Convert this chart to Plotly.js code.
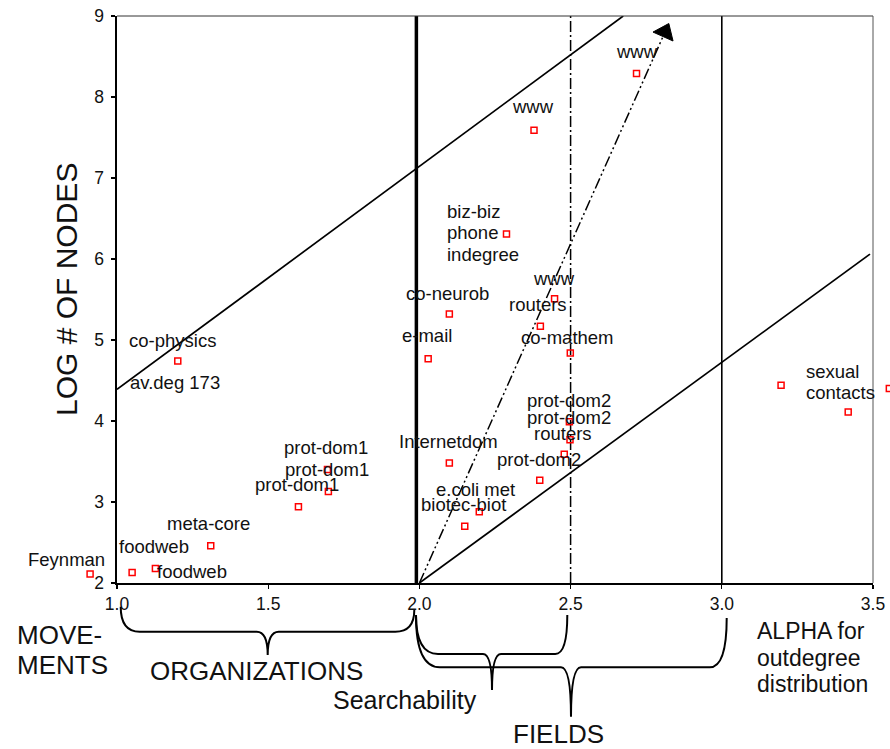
<!DOCTYPE html>
<html><head><meta charset="utf-8">
<script src="https://cdn.plot.ly/plotly-3.0.1.min.js"></script>
<style>html,body{margin:0;padding:0;background:#fff}#chart{width:890px;height:749px}</style>
</head><body><div id="chart"></div>
<script>
// ---------- data ----------
const netLabels = ["Feynman","foodweb","foodweb","meta-core","co-physics","prot-dom1","prot-dom1","prot-dom1",
  "co-neurob","e-mail","www","routers","co-mathem","prot-dom2","prot-dom2","routers","prot-dom2",
  "Internetdom","e.coli met","biotec-biot","www","www","biz-biz\nphone\nindegree","sexual\ncontacts","",""];
const subLabels = ["","","","","av.deg 173","","","","","","","","","","","","","","","","","","","","",""];
const alphaOut = [0.911,1.050,1.127,1.310,1.201,1.696,1.699,1.600,
  2.099,2.029,2.447,2.400,2.499,2.496,2.498,2.479,2.398,
  2.099,2.198,2.150,2.718,2.379,2.288,3.196,3.418,3.554];
const logNodes = [2.11,2.13,2.18,2.46,4.74,3.40,3.13,2.94,
  5.32,4.77,5.51,5.17,4.84,3.99,3.77,3.59,3.27,
  3.48,2.88,2.70,8.29,7.59,6.31,4.44,4.11,4.40];

const xTickVals = [1.0,1.5,2.0,2.5,3.0,3.5];
const xTickText = ["1.0","1.5","2.0","2.5","3.0","3.5"];
const yTickVals = [2,3,4,5,6,7,8,9];

const upperBoundX = [1.0, 2.674], upperBoundY = [4.39, 9.0];
const lowerBoundX = [2.0, 3.49],  lowerBoundY = [2.0, 6.06];
const trendX = [2.0, 2.812], trendY = [2.0, 8.80];
const dividerAlpha = [1.99, 2.5, 3.0];
const dividerLogN = [2, 9];

const X0 = 1.0, X1 = 3.5, Y0 = 2, Y1 = 9;

// ---------- style / layout config ----------
const FONT = "Liberation Sans, Arial, sans-serif";
const W = 890, H = 749, L = 117, R = 17, T = 16, B = 166;
const PW = W - L - R, PH = H - T - B;
const unitPx = PW/(X1-X0);
// wide, invisible companion axis with the same scale, so marks past the frame still show
const X2range = [X0 - L/unitPx, X1 + R/unitPx];

const labelPos = {
  0:{dx:-24,dy:-14.5}, 1:{dx:22,dy:-26}, 2:{dx:37,dy:3}, 3:{dx:-2,dy:-22},
  4:{dx:-5,dy:-21}, 5:{dx:-1,dy:-22}, 6:{dx:-1,dy:-22}, 7:{dx:-1.6,dy:-22},
  8:{dx:-1.6,dy:-21}, 9:{dx:-1.6,dy:-23}, 10:{dx:-1,dy:-20.5}, 11:{dx:-2,dy:-21.6},
  12:{dx:-3,dy:-15}, 13:{dx:-0.6,dy:-21}, 14:{dx:-1.3,dy:-21.7}, 15:{dx:-1.3,dy:-21},
  16:{dx:-1.2,dy:-21}, 17:{dx:-1.3,dy:-22}, 18:{dx:-3.3,dy:-22}, 19:{dx:-1.7,dy:-22},
  20:{dx:0,dy:-22}, 21:{dx:-0.7,dy:-23.5},
  22:{dx:-61.7,dy:-1.3,anchor:'left',gap:21.5},
  23:{dx:23.3,dy:-3,anchor:'left',gap:21}
};
const subPos = {4:{dx:-3,dy:21}};

const annotations = [];
function addLabel(i, text, pos){
  const lines = text.split("\n");
  const n = lines.length, gap = pos.gap || 21.5;
  lines.forEach((ln, j) => {
    const off = pos.dy + (j - (n-1)/2)*gap;
    annotations.push({
      x: alphaOut[i], y: logNodes[i], xref:'x2', yref:'y2',
      text: ln, showarrow:false, xanchor: pos.anchor || 'center', yanchor:'middle',
      xshift: pos.dx, yshift: -off, align:'left',
      font:{family:FONT,size:18.5,color:'#111'}
    });
  });
}
netLabels.forEach((t,i)=>{ if(t) addLabel(i,t,labelPos[i]||{dx:0,dy:-22}); });
subLabels.forEach((t,i)=>{ if(t) addLabel(i,t,subPos[i]); });

// px -> paper (margins l/r are zero, so paper x spans the full width)
const pxX = p => p/W;
const pxY = p => (H - B - p)/PH;

function brace(b){
  const P = (x,y) => pxX(x).toFixed(5)+','+pxY(y).toFixed(5);
  return 'M'+P(b.xL,b.yTL)+' Q'+P(b.xL,b.yH)+' '+P(b.xL+b.rL,b.yH)+
    ' L'+P(b.xC-b.rc,b.yH)+' Q'+P(b.xC,b.yH)+' '+P(b.xC,b.yC)+
    ' Q'+P(b.xC,b.yH)+' '+P(b.xC+b.rc,b.yH)+
    ' L'+P(b.xR-b.rR,b.yH)+' Q'+P(b.xR,b.yH)+' '+P(b.xR,b.yTR);
}
const braces = [
  {xL:120.7,xR:414.3,xC:267.7,yTL:606.7,yTR:610,yH:631.7,yC:655,rL:19,rR:19,rc:11},
  {xL:416,xR:567.3,xC:492,yTL:615,yTR:615,yH:654,yC:690,rL:22,rR:12,rc:9},
  {xL:416,xR:726.7,xC:571,yTL:616,yTR:618,yH:667.3,yC:716.7,rL:24,rR:17,rc:10}
];
const shapes = braces.map(b=>({type:'path',xref:'paper',yref:'paper',path:brace(b),
  line:{color:'black',width:2}}));
shapes.push({type:'line',xref:'paper',yref:'paper',x0:pxX(L),x1:pxX(W-R),y0:1,y1:1,line:{color:'#333',width:1}});
shapes.push({type:'line',xref:'paper',yref:'paper',x0:pxX(W-R),x1:pxX(W-R),y0:0,y1:1,line:{color:'#555',width:1}});

function pAnn(text,x,y,size,anchor){
  annotations.push({xref:'paper',yref:'paper',x:pxX(x),y:pxY(y),text:text,showarrow:false,
    xanchor:anchor||'center',yanchor:'middle',align:'left',font:{family:FONT,size:size,color:'#111'}});
}
pAnn('MOVE-',15,634.5,26,'left');
pAnn('MENTS',15,664.5,26,'left');
pAnn('ORGANIZATIONS',256,671,26);
pAnn('Searchability',404.5,699.5,25);
pAnn('FIELDS',558,734,26);
pAnn('ALPHA for',755,631,23,'left');
pAnn('outdegree',755,657.5,23,'left');
pAnn('distribution',755,684,23,'left');
annotations.push({xref:'paper',yref:'paper',x:pxX(66),y:pxY(290),text:'LOG # OF NODES',textangle:-90,
  showarrow:false,xanchor:'center',yanchor:'middle',font:{family:FONT,size:30,color:'#111'}});

// ---------- traces ----------
const lineStyle = (w,dash)=>({color:'black',width:w,dash:dash||'solid'});
const traces = [
  {x:upperBoundX,y:upperBoundY,mode:'lines',line:lineStyle(1.7),hoverinfo:'skip'},
  {x:lowerBoundX,y:lowerBoundY,mode:'lines',line:lineStyle(1.7),hoverinfo:'skip'},
  {x:[dividerAlpha[0],dividerAlpha[0]],y:dividerLogN,mode:'lines',line:lineStyle(3.5),hoverinfo:'skip'},
  {x:[dividerAlpha[1],dividerAlpha[1]],y:dividerLogN,mode:'lines',line:lineStyle(1.5,'11px,3px,2px,3px'),hoverinfo:'skip'},
  {x:[dividerAlpha[2],dividerAlpha[2]],y:dividerLogN,mode:'lines',line:lineStyle(1.6),hoverinfo:'skip'},
  {x:trendX,y:trendY,mode:'lines',line:lineStyle(1.5,'11px,3px,2px,3px,2px,3px'),hoverinfo:'skip'},
  {x:trendX,y:trendY,mode:'markers',cliponaxis:false,
   marker:{symbol:'triangle-up',size:[0,19],color:'#000',opacity:1,angleref:'previous',
   line:{width:1,color:'#000'}},hoverinfo:'skip'},
  {x:alphaOut,y:logNodes,xaxis:'x2',yaxis:'y2',mode:'markers',cliponaxis:false,text:netLabels,
   marker:{symbol:'square-open',size:6,color:'red',line:{width:1.5,color:'red'}}}
];

const axisBase = {showgrid:false,zeroline:false,showline:true,linecolor:'black',linewidth:1.6,
  ticks:'outside',ticklen:4,tickcolor:'black',tickwidth:1.2,fixedrange:true,
  tickfont:{family:FONT,size:17.5,color:'#111'}};
const layout = {
  width:W,height:H,margin:{l:0,r:0,t:T,b:B},paper_bgcolor:'white',plot_bgcolor:'rgba(0,0,0,0)',showlegend:false,
  xaxis:Object.assign({},axisBase,{range:[X0,X1],tickvals:xTickVals,ticktext:xTickText,
    domain:[L/W,(W-R)/W],anchor:'y'}),
  yaxis:Object.assign({},axisBase,{range:[Y0,Y1],tickvals:yTickVals,anchor:'x',ticklabelstandoff:4}),
  xaxis2:{range:X2range,domain:[0,1],visible:false,anchor:'y2',fixedrange:true},
  yaxis2:{range:[Y0,Y1],domain:[0,1],visible:false,anchor:'x2',fixedrange:true},
  annotations:annotations, shapes:shapes
};
Plotly.newPlot('chart',traces,layout,{displayModeBar:false,staticPlot:true});
</script></body></html>
